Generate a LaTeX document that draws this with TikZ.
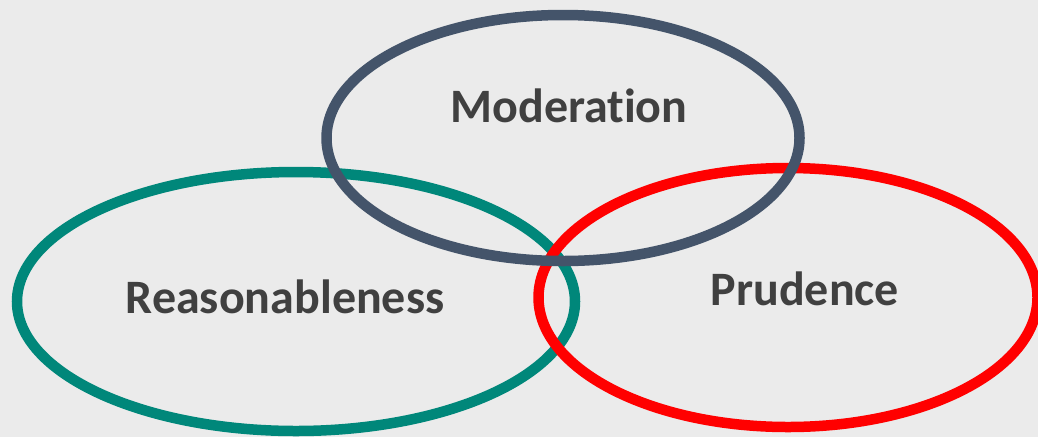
\documentclass[tikz,border=0pt]{standalone}
\usepackage{fontspec}
\setmainfont[Ligatures={NoCommon}]{Carlito}
\definecolor{bg}{HTML}{EBEBEB}
\definecolor{slate}{HTML}{44546A}
\definecolor{tealc}{HTML}{00877A}
\definecolor{redc}{HTML}{FF0000}
\definecolor{txt}{HTML}{404040}
\begin{document}
\begin{tikzpicture}[x=1pt,y=-1pt,
  ring/.style={line width=10.5pt},
  lbl/.style={anchor=base,inner sep=0pt,text=txt,font=\fontsize{48}{52}\selectfont\bfseries}]
\fill[bg] (0,0) rectangle (1038,437);
\useasboundingbox (0,0) rectangle (1038,437);
\begin{scope}
\clip (0,0) rectangle (1038,437);
\draw[ring,tealc] (296,301.5) ellipse [x radius=279,y radius=129.5];
\draw[ring,redc] (788,297.5) ellipse [x radius=249.5,y radius=129.5];
\draw[ring,slate] (563,138) ellipse [x radius=236.5,y radius=123];
\end{scope}
\node[lbl] (mod) at (569,122) {Moderation};
\node[lbl] (rea) at (285,313) {Reasonableness};
\node[lbl] (pru) at (805,305) {Prudence};
\end{tikzpicture}
\end{document}
